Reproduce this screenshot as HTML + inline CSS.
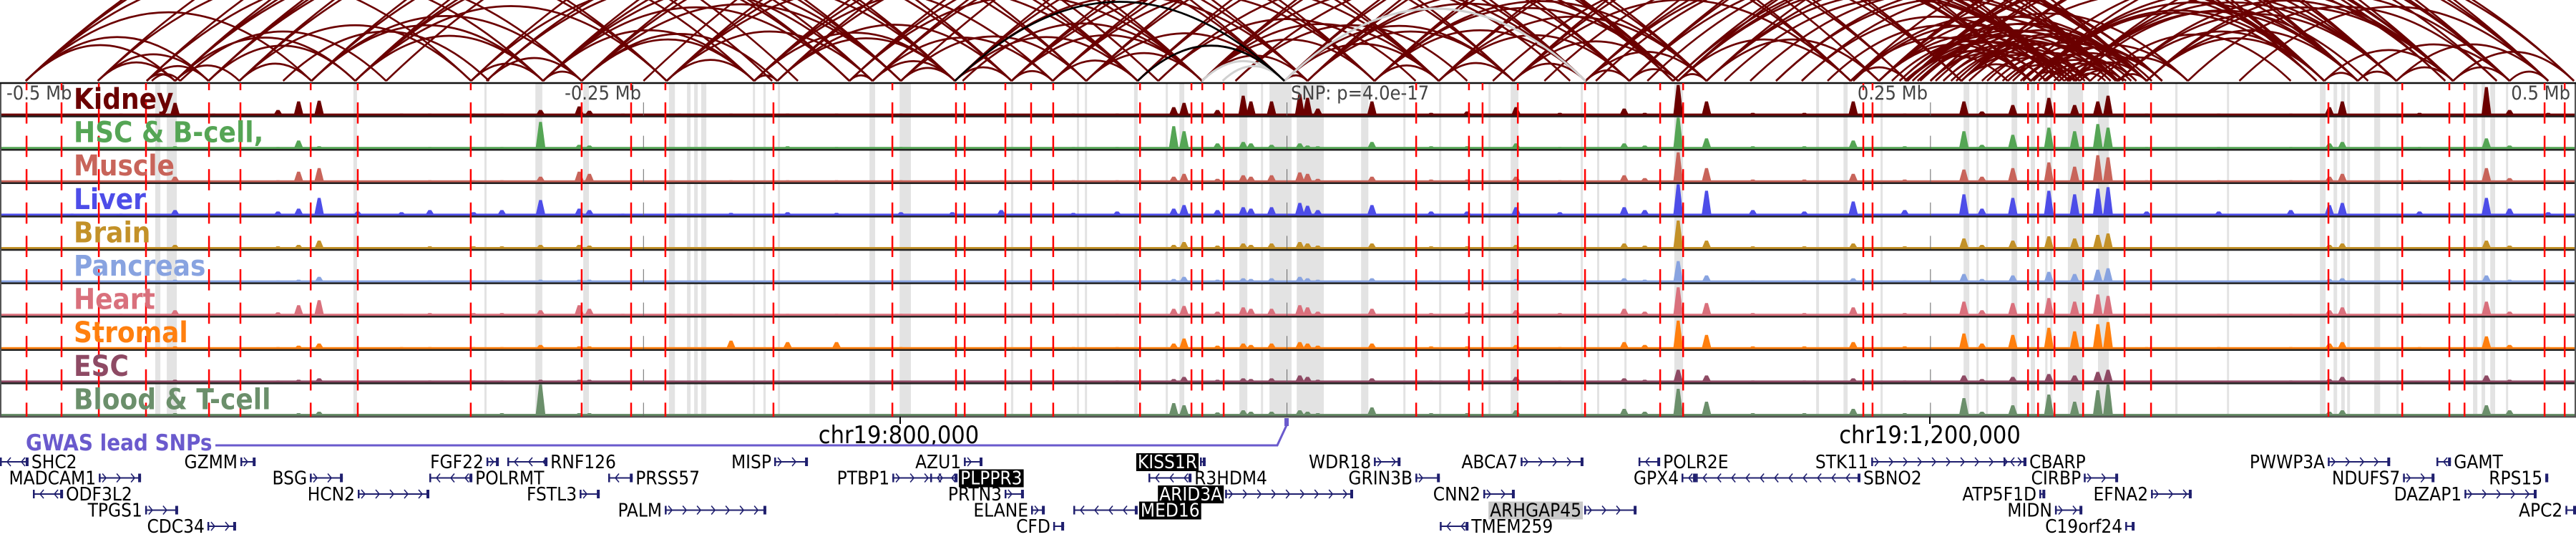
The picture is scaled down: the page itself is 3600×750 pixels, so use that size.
<!DOCTYPE html>
<html><head><meta charset="utf-8">
<style>
html,body{margin:0;padding:0;background:#fff;width:3600px;height:750px;overflow:hidden}
svg{display:block}
.tl{font-family:"DejaVu Sans Condensed","DejaVu Sans","Liberation Sans",sans-serif;font-weight:bold;font-size:40px}
.ax{font-family:"DejaVu Sans Condensed","DejaVu Sans","Liberation Sans",sans-serif;font-size:27px;fill:#444}
.gn{font-family:"DejaVu Sans Condensed","DejaVu Sans","Liberation Sans",sans-serif;font-size:26px}
.chr{font-family:"DejaVu Sans Condensed","DejaVu Sans","Liberation Sans",sans-serif;font-size:34px;fill:#000}
</style></head><body>
<svg id="chart" width="3600" height="750" viewBox="0 0 3600 750" xmlns="http://www.w3.org/2000/svg">
<g id="arcs"></g>
<g id="grey"></g>
<g id="tracks"></g>
<g id="reds"></g>
<g id="labels"></g>
<g id="axis">
<text class="ax" x="9" y="139">-0.5 Mb</text>
<text class="ax" x="896" y="139" text-anchor="end">-0.25 Mb</text>
<text class="ax" x="1804" y="139">SNP: p=4.0e-17</text>
<text class="ax" x="2694" y="139" text-anchor="end">0.25 Mb</text>
<text class="ax" x="3592" y="139" text-anchor="end">0.5 Mb</text>
</g>
<g id="bottom">
<line x1="1258" y1="582" x2="1258" y2="592" stroke="#000" stroke-width="2"/>
<line x1="2697" y1="582" x2="2697" y2="592" stroke="#000" stroke-width="2"/>
<text class="chr" x="1256" y="619" text-anchor="middle">chr19:800,000</text>
<text class="chr" x="2697" y="619" text-anchor="middle">chr19:1,200,000</text>
<text x="36" y="629" font-family="DejaVu Sans Condensed,DejaVu Sans,Liberation Sans,sans-serif" font-weight="bold" font-size="31" fill="#6a5acd">GWAS lead SNPs</text>
<polyline points="301,622 1785,622 1798,594" fill="none" stroke="#6a5acd" stroke-width="3"/>
<rect x="1795" y="584" width="6" height="11" fill="#6a5acd"/>
</g>
<g id="genes"></g>
</svg>
<script>
// ---- data (genomic positions in kb) ----
const arcPairs = [[460,518],[460,531],[460,571],[488,518],[488,531],[507,518],[507,531],[509,520],[518,543],[518,588],[531,588],[543,571],[543,633],[571,661],[571,676],[588,661],[588,709],[633,661],[639,676],[661,676],[661,743],[661,780],[676,743],[676,752],[676,800],[709,743],[709,789],[743,752],[743,821],[752,821],[752,843],[780,789],[789,821],[789,859],[800,821],[800,872],[821,843],[821,892],[824,917],[843,859],[843,917],[859,892],[872,917],[872,949],[892,949],[917,958],[917,984],[949,958],[949,1009],[958,1038],[984,1009],[984,1066],[1009,1038],[1009,1083],[1038,1066],[1038,1102],[1066,1083],[1066,1113],[1083,1102],[1102,1113],[1102,1169],[1113,1180],[1169,1191],[1169,1239],[1180,1239],[1180,1254],[1191,1239],[1191,1254],[1191,1273],[1212,1254],[1212,1273],[1212,1284],[1239,1254],[1239,1273],[1239,1284],[1239,1353],[1254,1273],[1254,1284],[1254,1366],[1273,1284],[1273,1353],[1273,1381],[1284,1353],[1284,1366],[1284,1403],[1353,1366],[1353,1403],[1366,1381],[1366,1425],[1381,1403],[1381,1440],[1403,1425],[1403,1450],[1425,1440],[600,900],[700,1100],[1100,1350],[1200,1420],[1150,1290],[1193,1256],[1195,1275],[1210,1286],[1240,1350],[1256,1370],[1188,1280],[1232,1400],[1245,1262],[1250,1280],[1258,1275],[1200,1258],[1205,1270],[1262,1300],[1265,1340],[1170,1260],[1160,1250],[1230,1290],[1300,1420],[1320,1440],[900,1000],[930,1020],[560,640],[520,600],
[460,633],[460,709],[488,661],[507,676],[518,709],[531,743],[543,780],[571,800],[588,821],[633,789],[639,843],[661,872],[676,892],[709,917],[743,949],[752,958],[780,984],[789,1009],[821,1038],[843,1066],[859,1083],[872,1102],[892,1113],[917,1169],[949,1191],[958,1212],[984,1239],[1009,1254],[1038,1273],[1066,1284],[1083,1353],[1102,1366],[1113,1381],[1169,1403],[1180,1425],[1191,1440],[1212,1450],
[1102,1254],[1113,1254],[1102,1273],[1113,1284],[1083,1254],[1066,1239],[1169,1273],[1180,1284],[1191,1284],[1191,1300],[1212,1239],[1150,1254],[1140,1273],[1239,1366],[1254,1381],[1254,1403],[1273,1403],[1284,1425],[1239,1381],[1212,1353],[1191,1353],[1180,1353],[1220,1258],[1225,1270],[1230,1256],[1235,1278],[1244,1272],[1248,1290],[1200,1245],[1205,1252],
[917,1009],[949,1038],[958,1083],[984,1102],[1009,1113],[1038,1169],[900,1060],[930,1100],[1253,1257],[1252,1262],[1256,1268],[1272,1276],
[460,760],[488,800],[507,821],[518,843],[531,872],[543,892],[571,917],[588,949],[633,958],[661,984],[676,1009],[709,1038],[743,1066],[752,1083],[780,1102],[789,1113],[800,1169],[821,1180],[843,1191],[859,1212],[872,1239],[892,1254],[917,1273],[949,1284],[958,1353],[984,1366],[1009,1381],[1038,1403],[1066,1425],[1083,1440],
[1191,1403],[1212,1425],[1239,1440],[1254,1450],[1100,1273],[1090,1284],[1070,1254],[1050,1239],[1030,1212],[1191,1366],[1200,1381],[1180,1400],[1120,1254],[1130,1273],[1140,1290],
[518,750],[531,789],[588,780],[639,800],[661,821],[709,859],[743,892],[780,917],[821,958],[843,984],[859,1009],[917,1066],[958,1102],[984,1113],
[1185,1250],[1188,1262],[1196,1270],[1202,1284],[1208,1262],[1215,1275],[1222,1284],[1228,1262],[1236,1290],[1242,1300],[1190,1230],[1195,1245]];
const blackArcs = [[821,949],[892,949]];
const greyArcs = [[949,1066],[917,949],[925,949]];
const redSnps = [460.3,473.9,488.4,506.7,531.2,543.4,570.7,589.0,632.9,676.0,695.2,708.5,750.5,796.7,821.4,824.8,840.6,850.6,859.2,892.9,912.9,917.1,925.4,1000.2,1020.7,1026.0,1039.7,1065.8,1095.0,1103.9,1173.9,1177.5,1237.9,1241.8,1248.2,1259.3,1275.4,1285.7,1354.6,1383.3,1401.6,1407.5,1438.6,1446.4];
const greyStart = [510.3,514.8,587.3,638.2,658.0,676.6,709.9,716.9,719.7,722.4,742.5,746.6,752.2,787.8,799.5,842.8,868.4,871.5,890.6,902.9,908.2,931.5,939.9,943.2,953.8,978.8,995.2,1009.1,1028.3,1036.9,1064.1,1070.5,1081.1,1100.5,1155.6,1166.2,1180.6,1212.9,1217.9,1221.5,1231.5,1239.0,1244.6,1246.5,1253.4,1265.1,1295.1,1315.2,1351.3,1356.6,1359.6,1361.9,1372.4,1381.0,1410.8,1414.1,1417.5,1423.6];
const greyEnd   = [512.3,518.7,588.7,639.0,660.7,678.8,712.2,718.3,721.1,724.4,743.3,747.5,753.0,790.0,803.9,843.7,869.2,872.3,892.0,903.7,910.1,934.6,940.7,951.8,964.3,981.6,996.0,1009.9,1029.1,1039.9,1065.0,1071.3,1081.9,1103.9,1156.7,1167.8,1181.4,1215.1,1218.7,1222.3,1233.7,1240.6,1245.4,1247.3,1259.3,1269.3,1296.0,1316.0,1353.5,1358.0,1361.0,1363.0,1374.7,1381.9,1412.5,1415.5,1419.4,1424.4];
const peakPos = [478,497,518,533,558,566,574,589,606,617,634,645,660,675,679,692,714,734,756,775,800,820,839,867,884,906,910,923,933,936,944,955,958,962,983,1006,1020,1039,1056,1081,1089,1102,1113,1131,1151,1170,1190,1213,1220,1232,1246,1256,1265,1269,1284,1312,1340,1355,1360,1390,1416,1425,1440];
const trackNames = ["Kidney","HSC & B-cell,","Muscle","Liver","Brain","Pancreas","Heart","Stromal","ESC","Blood & T-cell"];
const trackColors = ["#6b0000","#55a555","#c8645a","#4d4de8","#c39128","#88a3e0","#d9707c","#ff7f0e","#8e4a64","#6b8f6b"];
const kidney   = [2,3,18,3,8,20,21,3,3,3,3,3,8,13,7,3,3,3,3,3,3,3,3,3,3,12,18,8,28,20,20,30,25,10,20,4,6,12,4,10,4,43,20,4,4,20,3,20,6,15,25,15,20,28,3,3,3,12,20,4,40,8,4];
const hsc      = [2,2,4,2,3,12,4,2,2,3,3,3,38,6,5,2,2,2,4,3,3,3,3,3,3,32,25,8,10,8,6,8,5,4,10,4,4,8,3,8,5,44,15,4,4,12,4,25,6,20,30,25,35,30,3,3,3,8,10,3,15,5,3];
const muscle   = [2,2,8,2,3,15,20,2,2,3,3,3,8,15,12,2,2,3,3,3,3,3,3,3,3,8,12,5,10,8,10,14,12,5,8,4,4,8,3,10,6,42,20,4,4,12,4,18,8,20,28,22,38,35,3,3,3,8,12,3,20,6,3];
const liver    = [3,3,8,2,6,10,25,6,5,8,5,8,22,10,8,3,3,4,5,4,5,5,8,4,6,10,15,8,12,10,12,18,14,8,15,6,6,12,5,12,8,44,35,8,6,20,8,30,10,25,35,30,38,40,6,6,8,15,18,6,25,10,5];
const brain    = [3,3,6,3,4,6,12,3,3,4,4,4,6,6,5,3,3,3,3,3,3,3,3,3,3,6,10,5,8,6,8,10,8,5,8,4,4,6,3,8,5,40,12,4,4,8,4,15,6,12,18,15,20,22,3,3,3,6,8,3,12,5,3];
const pancreas = [2,2,4,2,3,4,8,2,2,3,3,3,4,4,4,2,2,2,2,2,2,2,3,2,3,5,8,4,6,5,6,8,6,4,6,3,3,5,3,6,4,30,10,3,3,6,3,12,5,10,15,12,18,20,2,2,3,5,6,2,10,4,2];
const heart    = [2,3,8,3,5,15,22,3,3,4,4,4,8,15,10,3,3,3,3,3,3,3,3,3,3,10,14,6,12,10,10,15,12,6,10,4,5,8,4,10,6,40,18,4,4,12,4,20,8,18,25,20,30,28,3,3,3,8,12,3,20,6,3];
const stromal  = [2,2,4,2,3,5,8,2,3,3,3,3,6,4,4,2,2,12,10,10,3,3,3,3,3,8,15,5,8,6,8,10,8,5,8,4,4,6,3,10,6,40,20,4,4,10,4,22,8,20,30,25,35,38,3,3,3,8,10,3,18,6,3];
const esc      = [2,2,4,2,3,4,6,2,2,3,3,3,4,4,4,2,2,2,2,2,2,2,3,2,3,5,8,4,6,5,6,10,8,4,6,3,3,8,3,6,4,18,10,3,3,6,3,10,5,8,12,10,15,18,2,2,3,5,8,2,10,4,2];
const blood    = [2,3,4,3,3,4,6,3,3,3,3,4,44,4,4,3,3,3,3,3,3,3,3,3,3,18,15,5,8,6,6,8,6,4,12,4,4,8,3,10,6,38,20,4,4,10,4,25,6,15,30,20,36,44,3,3,3,6,8,3,15,8,3];
const geneNames  = ["SHC2","GZMM","FGF22","RNF126","MISP","AZU1","KISS1R","WDR18","ABCA7","POLR2E","STK11","CBARP","PWWP3A","GAMT",
 "MADCAM1","BSG","POLRMT","PRSS57","PTBP1","PLPPR3","R3HDM4","GRIN3B","GPX4","SBNO2","CIRBP","NDUFS7","RPS15",
 "ODF3L2","HCN2","FSTL3","PRTN3","ARID3A","CNN2","ATP5F1D","EFNA2","DAZAP1",
 "TPGS1","PALM","ELANE","MED16","ARHGAP45","MIDN","APC2",
 "CDC34","CFD","TMEM259","C19orf24"];
const geneRow    = [0,0,0,0,0,0,0,0,0,0,0,0,0,0, 1,1,1,1,1,1,1,1,1,1,1,1,1, 2,2,2,2,2,2,2,2,2, 3,3,3,3,3,3,3, 4,4,4,4];
const geneStart  = [450,543.4,639.0,647.1,750.8,824.5,916.2,983.8,1040.8,1086.6,1177.0,1228.4,1354.4,1396.6,
 488.4,570.4,616.8,686.3,796.7,811.4,896.2,999.9,1103.3,1108.9,1259.6,1383.6,1438.9,
 462.8,589.0,675.2,840.3,926.0,1026.3,1242.3,1285.7,1407.5,
 506.4,708.3,850.6,867.0,1065.5,1248.4,1446.7,
 530.6,859.2,1009.4,1275.7];
const geneEnd    = [461.1,549.3,643.8,662.7,763.9,831.7,918.4,994.1,1065.2,1095.0,1237.2,1237.3,1378.6,1402.2,
 504.8,583.2,633.5,695.8,822.0,822.0,912.9,1009.4,1108.9,1172.8,1272.9,1395.8,1439.7,
 474.5,616.8,683.0,847.8,975.7,1038.5,1244.6,1301.5,1435.5,
 519.2,747.7,855.9,892.0,1085.8,1259.0,1450.8,
 541.7,863.4,1020.5,1279.3];
const geneStrand = ["-","+","+","-","+","+","+","+","+","-","+","-","+","-",
 "+","+","-","-","+","-","-","+","-","-","+","+","+",
 "-","+","+","+","+","+","+","+","+",
 "+","+","+","-","+","+","+",
 "+","+","-","+"];
const labelSide  = ["R","L","L","R","L","L","L","L","L","R","L","R","L","R",
 "L","L","R","R","L","R","R","L","L","R","L","L","L",
 "R","L","L","L","L","L","L","L","L",
 "L","L","L","R","L","L","L",
 "L","L","R","L"];
const labelStyle = ["","","","","","","black","","","","","","","",
 "","","","","","black","","","","","","","",
 "","","","","black","","","","",
 "","","","black","grey","","",
 "","","",""];

// ---- scales ----
const NS = "http://www.w3.org/2000/svg";
const kb0 = 450, kb1 = 1450.8, W = 3600;
function xs(kb){ return (kb - kb0) / (kb1 - kb0) * W; }
const trackTop = 116, trackH = 46.6, nTracks = trackNames.length;
function ty(i){ return trackTop + i * trackH; }
function mk(tag, attrs, parent){ const e = document.createElementNS(NS, tag); for (const k in attrs) e.setAttribute(k, attrs[k]); parent.appendChild(e); return e; }
const seriesList = [kidney,hsc,muscle,liver,brain,pancreas,heart,stromal,esc,blood];

// ---- arcs (parabolic) ----
const gArcs = document.getElementById('arcs');
const baseY = 113, hf = 0.24;
function drawArc(p, color, w, name){
  const x1 = xs(p[0]), x2 = xs(p[1]);
  const cx = (x1 + x2) / 2, cy = baseY - 2 * hf * (x2 - x1);
  const el = mk('path', {d:`M${x1.toFixed(1)},${baseY} Q${cx.toFixed(1)},${cy.toFixed(1)} ${x2.toFixed(1)},${baseY}`, fill:'none', stroke:color, 'stroke-width':w}, gArcs);
  
  
}
arcPairs.forEach(p => drawArc(p, '#6b0000', 2.6, 'loop-arc'));
greyArcs.forEach(p => drawArc(p, '#d0d0d0', 3, 'highlighted-loop-arc-grey'));
blackArcs.forEach(p => drawArc(p, '#000', 2.6, 'highlighted-loop-arc-black'));

// ---- grey highlight columns ----
const gGrey = document.getElementById('grey');
greyStart.forEach((s, i) => {
  const x = xs(s), w = Math.max(3, xs(greyEnd[i]) - x);
  const r = mk('rect', {x:x.toFixed(1), y:trackTop, width:w.toFixed(1), height:(trackH*nTracks).toFixed(1), fill:'#e3e3e3'}, gGrey);
  
  
});

// ---- tracks ----
const gTracks = document.getElementById('tracks');
const gLabels = document.getElementById('labels');
seriesList.forEach((vals, t) => {
  const top = ty(t), bot = top + trackH, col = trackColors[t];
  const g = mk('g', {}, gTracks);
  
  
  const base = mk('rect', {x:0, y:(bot-4).toFixed(1), width:W, height:3, fill:col}, g);
  
  
  peakPos.forEach((p, i) => {
    const x = xs(p), h = vals[i];
    const pk = mk('polygon', {points:`${(x-7).toFixed(1)},${bot-1} ${(x-2).toFixed(1)},${(bot-1-h).toFixed(1)} ${(x+2).toFixed(1)},${(bot-1-h).toFixed(1)} ${(x+7).toFixed(1)},${bot-1}`, fill:col}, g);
    
    
  });
  [700, 950, 1200].forEach(k => {
    const l = mk('line', {x1:xs(k), x2:xs(k), y1:top+27, y2:bot, stroke:'#666', 'stroke-width':1}, g);
    
    
  });
  const bl = mk('line', {x1:0, x2:W, y1:bot.toFixed(1), y2:bot.toFixed(1), stroke:'#222', 'stroke-width':2.5}, g);
  
  
  const tx = mk('text', {x:103, y:(top+36).toFixed(1), class:'tl', fill:col}, gLabels);
  tx.textContent = trackNames[t];
  
  
});
const frame = mk('rect', {x:1, y:trackTop, width:W-2, height:(trackH*nTracks).toFixed(1), fill:'none', stroke:'#555', 'stroke-width':2}, gTracks);


const topLine = mk('line', {x1:0, x2:W, y1:trackTop, y2:trackTop, stroke:'#111', 'stroke-width':2.5}, gTracks);



// ---- red SNP lines (dashed per track) ----
const gReds = document.getElementById('reds');
redSnps.forEach(k => {
  const x = xs(k);
  for (let t = 0; t < nTracks; t++) {
    const y1 = ty(t) + 27;
    const y2 = t === nTracks - 1 ? ty(t) + trackH : ty(t + 1) + 10;
    const l = mk('line', {x1:x.toFixed(1), x2:x.toFixed(1), y1:y1.toFixed(1), y2:y2.toFixed(1), stroke:'#f00', 'stroke-width':2.5}, gReds);
    
    
  }
  const l0 = mk('line', {x1:x.toFixed(1), x2:x.toFixed(1), y1:trackTop, y2:trackTop+10, stroke:'#f00', 'stroke-width':2.5}, gReds);
  
  
});

// ---- genes ----
const gGenes = document.getElementById('genes');
const rowY = [645, 667.5, 690, 712.5, 735];
const gc = '#1f1f6e';
geneNames.forEach((nm, i) => {
  const y = rowY[geneRow[i]];
  const x1 = xs(geneStart[i]), x2 = Math.max(xs(geneEnd[i]), x1 + 4);
  const g = mk('g', {}, gGenes);
  
  
  mk('line', {x1:x1.toFixed(1), x2:x2.toFixed(1), y1:y, y2:y, stroke:gc, 'stroke-width':2}, g);
  mk('rect', {x:x1.toFixed(1), y:y-6, width:2.5, height:12, fill:gc}, g);
  mk('rect', {x:(x2-4).toFixed(1), y:y-6, width:4, height:12, fill:gc}, g);
  const dir = geneStrand[i] === '+' ? 1 : -1;
  for (let x = x1 + 10; x < x2 - 6; x += 20) {
    mk('polyline', {points:`${x - 5*dir},${y-6} ${x},${y} ${x - 5*dir},${y+6}`, fill:'none', stroke:gc, 'stroke-width':1.6}, g);
  }
  const left = labelSide[i] === 'L';
  const tx = left ? x1 - 4 : x2 + 4;
  const st = labelStyle[i];
  const t = mk('text', {x:tx.toFixed(1), y:y+9, class:'gn', 'text-anchor': left ? 'end' : 'start'}, g);
  t.textContent = nm;
  t.style.fill = '#000';
  if (st) {
    const bb = t.getBBox();
    const bg = mk('rect', {x:(bb.x-2).toFixed(1), y:y-12, width:(bb.width+4).toFixed(1), height:25, fill: st === 'black' ? '#000' : '#c8c8c8'}, g);
    g.insertBefore(bg, t);
    if (st === 'black') t.style.fill = '#fff';
  }
});
</script>
</body></html>
